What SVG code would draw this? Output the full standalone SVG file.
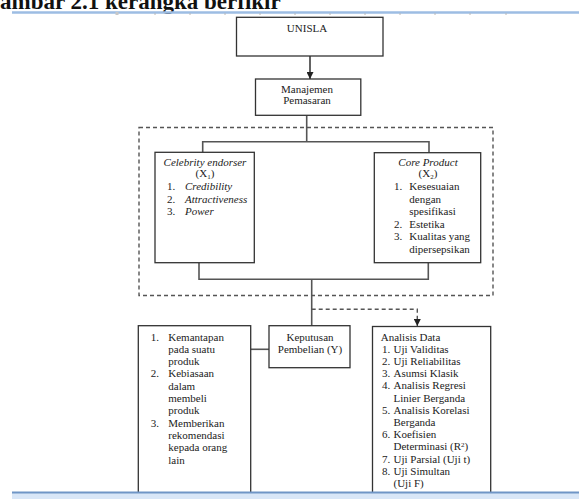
<svg xmlns="http://www.w3.org/2000/svg" width="579" height="499" viewBox="0 0 579 499">
<defs>
<style>
text{font-family:"Liberation Serif","Times New Roman",serif;font-size:11px;fill:#222}
.c{text-anchor:middle}
.i{font-style:italic}
.box{fill:#fff;stroke:#333;stroke-width:1.3}
.conn{fill:none;stroke:#555;stroke-width:1.6}
.dash{fill:none;stroke:#555;stroke-width:1.4;stroke-dasharray:4 3}
.tick{stroke:#b8b8b8;stroke-width:1}
</style>
<marker id="ah" viewBox="0 0 10 10" refX="10" refY="5" markerWidth="7" markerHeight="7" markerUnits="userSpaceOnUse" orient="auto">
<path d="M0,0 L10,5 L0,10 z" fill="#222"/>
</marker>
</defs>
<rect width="579" height="499" fill="#fff"/>
<g id="header">
<text x="0" y="9" style="font-size:23px;font-weight:bold;fill:#111">ambar 2.1 kerangka berfikir</text>
<line x1="12" y1="12.5" x2="579" y2="12.5" stroke="#9dbde3" stroke-width="2.5"/>
<rect x="115.5" y="12" width="3" height="3" fill="#c8c8c8"/>
<g class="tick">
<line x1="155" y1="13" x2="155" y2="15"/><line x1="190" y1="13" x2="190" y2="15"/><line x1="225" y1="13" x2="225" y2="15"/><line x1="260" y1="13" x2="260" y2="15"/><line x1="295" y1="13" x2="295" y2="15"/><line x1="330" y1="13" x2="330" y2="15"/><line x1="365" y1="13" x2="365" y2="15"/><line x1="400" y1="13" x2="400" y2="15"/><line x1="435" y1="13" x2="435" y2="15"/><line x1="470" y1="13" x2="470" y2="15"/><line x1="506" y1="13" x2="506" y2="15"/>
</g>
</g>
<g id="group-box">
<rect x="139" y="127.5" width="354" height="168" class="dash"/>
</g>
<g id="connectors">
<line x1="310" y1="56" x2="310" y2="79" stroke="#222" stroke-width="1.4" marker-end="url(#ah)"/>
<polyline class="conn" points="306.7,115.3 306.7,141.7"/>
<polyline class="conn" points="202.7,152.3 202.7,141.7 429,141.7 429,152.7"/>
<polyline class="conn" points="199,262.7 199,279.3 428.3,279.3 428.3,262.7"/>
<polyline class="conn" points="311.7,279.3 311.7,325.7"/>
<line class="conn" x1="250.7" y1="349.3" x2="269" y2="349.3"/>
<polyline class="dash" points="311.7,309.3 417.3,309.3 417.3,326" marker-end="url(#ah)"/>
</g>
<g id="unisla">
<rect class="box" x="236.5" y="17.3" width="146.5" height="38.7"/>
<text class="c" x="307" y="32">UNISLA</text>
</g>
<g id="manajemen">
<rect class="box" x="255.5" y="79" width="105.3" height="36.3"/>
<text class="c" x="307" y="92.5">Manajemen</text>
<text class="c" x="307" y="104">Pemasaran</text>
</g>
<g id="celebrity">
<rect class="box" x="155" y="152.3" width="99.3" height="110.4"/>
<text class="c i" x="205" y="165.5">Celebrity endorser</text>
<text class="c" x="205" y="177">(X<tspan font-size="7" dy="1.5">1</tspan><tspan dy="-1.5">)</tspan></text>
<text x="167" y="190">1.</text><text class="i" x="185" y="190">Credibility</text>
<text x="167" y="202.5">2.</text><text class="i" x="185" y="202.5">Attractiveness</text>
<text x="167" y="215">3.</text><text class="i" x="185" y="215">Power</text>
</g>
<g id="core-product">
<rect class="box" x="374.3" y="152.7" width="106.4" height="110"/>
<text class="c i" x="428" y="165.5">Core Product</text>
<text class="c" x="428" y="177">(X<tspan font-size="7" dy="1.5">2</tspan><tspan dy="-1.5">)</tspan></text>
<text x="394" y="190">1.</text><text x="409.3" y="190">Kesesuaian</text>
<text x="409.3" y="202.5">dengan</text>
<text x="409.3" y="215">spesifikasi</text>
<text x="394" y="227.5">2.</text><text x="409.3" y="227.5">Estetika</text>
<text x="394" y="240">3.</text><text x="409.3" y="240">Kualitas yang</text>
<text x="409.3" y="252.5">dipersepsikan</text>
</g>
<g id="indikator-y">
<rect class="box" x="138.3" y="325.7" width="112.4" height="180"/>
<text x="150.7" y="340.5">1.</text><text x="168.3" y="340.5">Kemantapan</text>
<text x="168.3" y="352.8">pada suatu</text>
<text x="168.3" y="365.1">produk</text>
<text x="150.7" y="377.4">2.</text><text x="168.3" y="377.4">Kebiasaan</text>
<text x="168.3" y="389.7">dalam</text>
<text x="168.3" y="402">membeli</text>
<text x="168.3" y="414.3">produk</text>
<text x="150.7" y="426.6">3.</text><text x="168.3" y="426.6">Memberikan</text>
<text x="168.3" y="438.9">rekomendasi</text>
<text x="168.3" y="451.2">kepada orang</text>
<text x="168.3" y="463.5">lain</text>
</g>
<g id="keputusan">
<rect class="box" x="269" y="325.7" width="81" height="42"/>
<text class="c" x="310" y="340.5">Keputusan</text>
<text class="c" x="310" y="353">Pembelian (Y)</text>
</g>
<g id="analisis">
<rect class="box" x="372.5" y="326.5" width="118.2" height="180"/>
<text x="380.7" y="340.5">Analisis Data</text>
<text x="382" y="352.7">1.</text><text x="393.5" y="352.7">Uji Validitas</text>
<text x="382" y="364.9">2.</text><text x="393.5" y="364.9">Uji Reliabilitas</text>
<text x="382" y="377.1">3.</text><text x="393.5" y="377.1">Asumsi Klasik</text>
<text x="382" y="389.3">4.</text><text x="393.5" y="389.3">Analisis Regresi</text>
<text x="393.5" y="401.5">Linier Berganda</text>
<text x="382" y="413.7">5.</text><text x="393.5" y="413.7">Analisis Korelasi</text>
<text x="393.5" y="425.9">Berganda</text>
<text x="382" y="438.1">6.</text><text x="393.5" y="438.1">Koefisien</text>
<text x="393.5" y="450.3">Determinasi (R<tspan font-size="7" dy="-3.5">2</tspan><tspan dy="3.5">)</tspan></text>
<text x="382" y="462.5">7.</text><text x="393.5" y="462.5">Uji Parsial (Uji t)</text>
<text x="382" y="474.7">8.</text><text x="393.5" y="474.7">Uji Simultan</text>
<text x="393.5" y="486.9">(Uji F)</text>
</g>
<g id="footer">
<rect x="12" y="492.5" width="567" height="6.5" fill="#d8e6f7"/>
<line x1="12" y1="492.5" x2="579" y2="492.5" stroke="#6f95c6" stroke-width="1.8"/>
</g>
</svg>
